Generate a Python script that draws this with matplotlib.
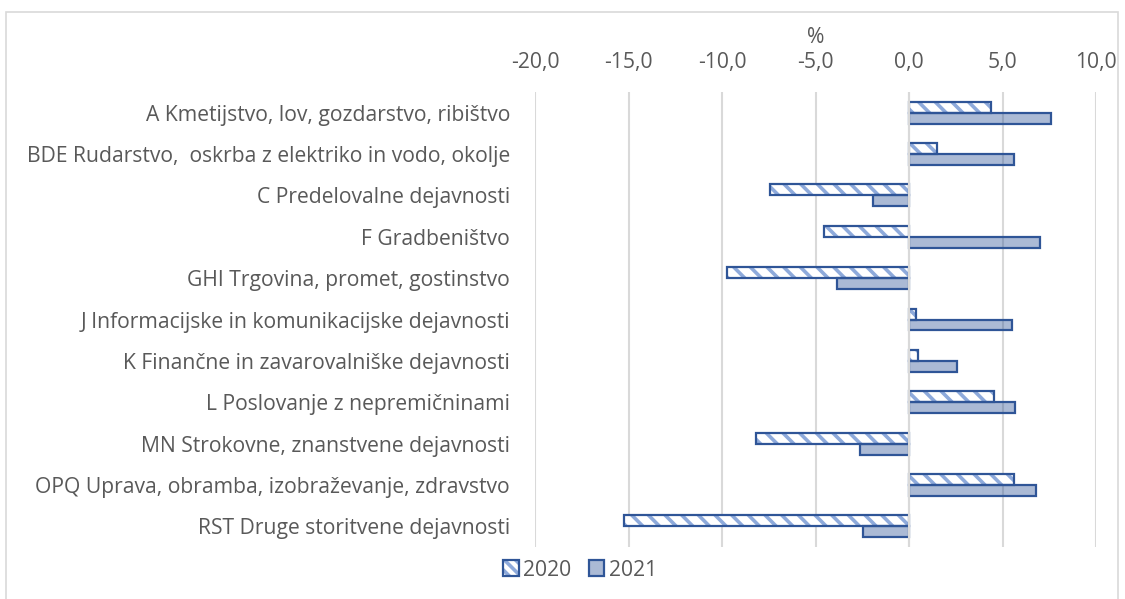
import matplotlib
matplotlib.use("Agg")
import matplotlib.pyplot as plt
import numpy as np
from matplotlib.patches import Rectangle, Patch

plt.rcParams['font.family'] = ['Open Sans', 'DejaVu Sans']
plt.rcParams['hatch.linewidth'] = 2.6

categories = [
    'A Kmetijstvo, lov, gozdarstvo, ribištvo',
    'BDE Rudarstvo,  oskrba z elektriko in vodo, okolje',
    'C Predelovalne dejavnosti',
    'F Gradbeništvo',
    'GHI Trgovina, promet, gostinstvo',
    'J Informacijske in komunikacijske dejavnosti',
    'K Finančne in zavarovalniške dejavnosti',
    'L Poslovanje z nepremičninami',
    'MN Strokovne, znanstvene dejavnosti',
    'OPQ Uprava, obramba, izobraževanje, zdravstvo',
    'RST Druge storitvene dejavnosti',
]
v2020 = [4.4, 1.5, -7.45, -4.55, -9.75, 0.4, 0.5, 4.55, -8.2, 5.6, -15.25]
v2021 = [7.6, 5.6, -1.9, 7.0, -3.85, 5.5, 2.55, 5.65, -2.6, 6.8, -2.45]
xticks = [-20, -15, -10, -5, 0, 5, 10]

text_col = '#595959'
edge_col = '#2f5597'
hatch_col = '#8eaadb'
fill_col = (0.18, 0.33, 0.59, 0.40)
fs = 15.2

fig = plt.figure(figsize=(11.25, 5.99), dpi=100)
ax = fig.add_axes([535/1125, 1-547/599, (1096-535)/1125, (547-92)/599])

# outer chart border
fig.patches.append(Rectangle((6/1125, -0.05), (1118-6)/1125, 1.05-12/599,
                             transform=fig.transFigure, fill=False,
                             edgecolor='#d9d9d9', linewidth=1.2))

y = np.arange(len(categories))
h = 0.265
# hatch layer (hatch takes the edge colour), then outline on top
ax.barh(y - h/2, v2020, height=h, facecolor='white', edgecolor=hatch_col,
        hatch='\\\\', linewidth=0, zorder=3)
ax.barh(y - h/2, v2020, height=h, facecolor='none', edgecolor=edge_col,
        linewidth=1.6, zorder=3)
ax.barh(y + h/2, v2021, height=h, facecolor=fill_col, edgecolor=edge_col,
        linewidth=1.6, zorder=3)

ax.axvline(0, color='#d9d9d9', linewidth=1.5, zorder=4)

ax.set_xlim(-20, 10)
ax.set_ylim(len(categories) - 0.5, -0.5)
ax.set_xticks(xticks)
ax.set_xticklabels([f'{t:.1f}'.replace('.', ',') for t in xticks])
ax.xaxis.tick_top()
ax.xaxis.set_label_position('top')
ax.set_xlabel('%', fontsize=fs, color=text_col, labelpad=6)
ax.set_yticks(y)
ax.set_yticklabels(categories)
ax.tick_params(axis='both', length=0, labelsize=fs, labelcolor=text_col)
ax.tick_params(axis='y', pad=18)
ax.tick_params(axis='x', pad=14)
ax.grid(axis='x', color='#d9d9d9', linewidth=1.5, zorder=0)
ax.set_axisbelow(True)
for s in ax.spines.values():
    s.set_visible(False)

h20 = Patch(facecolor='white', edgecolor=hatch_col, hatch='\\\\\\', linewidth=0)
h20b = Patch(facecolor='none', edgecolor=edge_col, linewidth=1.6)
h21 = Patch(facecolor=fill_col, edgecolor=edge_col, linewidth=1.6)
leg = fig.legend([(h20, h20b), h21], ['2020', '2021'], loc='center',
                 bbox_to_anchor=(580/1125, 1-570/599), ncol=2,
                 frameon=False, fontsize=fs, handlelength=0.75, handleheight=0.75,
                 handletextpad=0.2, columnspacing=0.8)
for t in leg.get_texts():
    t.set_color(text_col)

fig.savefig('out.png', dpi=100)
